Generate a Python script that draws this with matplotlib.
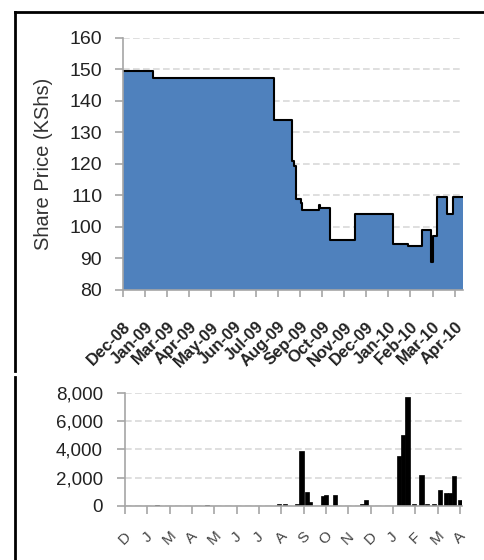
import numpy as np
import matplotlib
matplotlib.use('Agg')
import matplotlib.pyplot as plt
from matplotlib.lines import Line2D

plt.rcParams['font.family'] = ['Liberation Sans', 'DejaVu Sans']

# days since 29 Dec 2008 where the share price changes (step series)
price_days = [0, 43, 219, 245, 248, 251, 258, 259, 262, 283, 285, 300, 336,
              390, 413, 432, 446, 448, 449, 454, 469, 477, 492]
price_vals = [149.5, 147.3, 134, 121, 119.5, 109, 107.5, 105.5, 105.3, 107,
              106, 96, 104, 94.5, 94, 99, 89, 97, 97, 109.5, 104, 109.5, 109.5]

# traded volume (weekly bars)
vol_days = [46, 118, 221, 229, 247, 253, 261, 265, 284, 288, 301, 340, 345,
            393, 399, 405, 414, 425, 433, 443, 451, 460, 466, 472, 480]
vol_vals = [100, 100, 150, 150, 120, 3900, 1000, 250, 700, 800, 800, 150, 400,
            3500, 5000, 7700, 120, 2200, 120, 120, 1100, 950, 950, 2100, 400]

tick_days = [32 * k for k in range(16)]
top_labels = ['Dec-08', 'Jan-09', 'Mar-09', 'Apr-09', 'May-09', 'Jun-09',
              'Jul-09', 'Aug-09', 'Sep-09', 'Oct-09', 'Nov-09', 'Dec-09',
              'Jan-10', 'Feb-10', 'Mar-10', 'Apr-10']
bot_labels = ['D', 'J', 'M', 'A', 'M', 'J', 'J', 'A', 'S', 'O', 'N', 'D',
              'J', 'F', 'M', 'A']

W, H = 485, 560
fig = plt.figure(figsize=(W / 100, H / 100), dpi=100)

def box(l, t, r, b):
    return [l / W, 1 - b / H, (r - l) / W, (b - t) / H]

axis_grey = '#a6a6a6'
grid_grey = '#d9d9d9'

def style(ax):
    for s in ['top', 'right']:
        ax.spines[s].set_visible(False)
    for s in ['left', 'bottom']:
        ax.spines[s].set_color(axis_grey)
        ax.spines[s].set_linewidth(1.2)
    ax.yaxis.grid(True, color=grid_grey, linestyle=(0, (4, 2)), linewidth=1.2)
    ax.set_axisbelow(True)
    ax.tick_params(axis='both', color=axis_grey, width=1.2)
    ax.tick_params(axis='y', length=6, labelcolor='#222222', pad=9)

# top: share price
ax1 = fig.add_axes(box(123, 38, 463, 290))
ax1.fill_between(price_days, price_vals, 80, step='post', color='#4f81bd',
                 linewidth=0)
ax1.step(price_days, price_vals, where='post', color='black', linewidth=1.5)
ax1.set_xlim(0, 492)
ax1.set_ylim(80, 160)
ax1.set_yticks(range(80, 161, 10))
ax1.set_xticks(tick_days)
ax1.set_xticklabels(top_labels, rotation=45, ha='right', va='top',
                    rotation_mode='anchor', fontsize=12, fontweight='bold',
                    color='#222222')
style(ax1)
ax1.tick_params(axis='y', labelsize=14)
ax1.tick_params(axis='x', length=5, pad=16)
ax1.set_ylabel('Share Price (KShs)', fontsize=14.5, color='#333333',
               labelpad=12)

# bottom: volume
ax2 = fig.add_axes(box(125, 392.5, 462, 506))
ax2.bar(vol_days, vol_vals, width=6, color='black', edgecolor='black',
        linewidth=0.5)
ax2.set_xlim(0, 483)
ax2.set_ylim(0, 8000)
ax2.set_yticks(range(0, 8001, 2000))
ax2.set_yticklabels([f'{v:,}' for v in range(0, 8001, 2000)])
ax2.set_xticks(tick_days)
ax2.set_xticklabels(bot_labels, rotation=45, ha='center', va='center',
                    fontsize=11, color='#444444')
style(ax2)
ax2.tick_params(axis='y', labelsize=13.5, pad=10)
ax2.tick_params(axis='x', length=6, pad=17)

# frame lines around the panels
fig.add_artist(Line2D([15 / W, 1], [1 - 12 / H, 1 - 12 / H], color='black',
                      linewidth=2))
fig.add_artist(Line2D([15 / W, 15 / W], [1 - 12 / H, 1 - 371 / H],
                      color='black', linewidth=2))
fig.add_artist(Line2D([15 / W, 15 / W], [1 - 377 / H, 0], color='black',
                      linewidth=2))

fig.savefig('out.png', dpi=100)
